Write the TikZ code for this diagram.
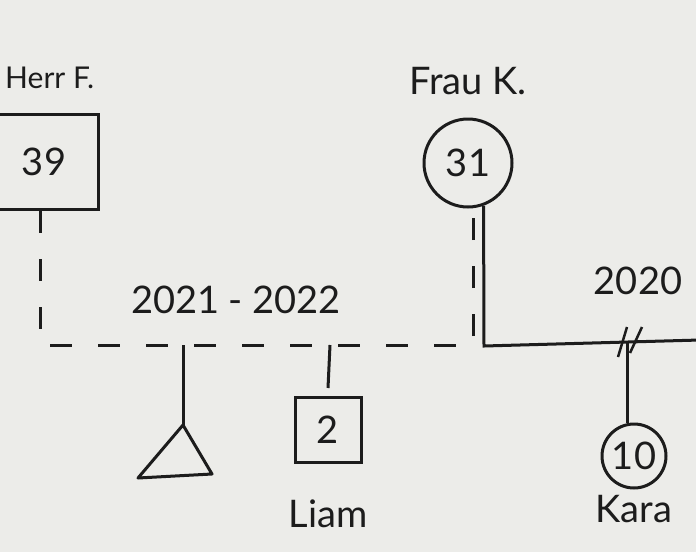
\documentclass[tikz,border=0pt]{standalone}
\usepackage{fontspec}
\setmainfont{Lato}
\usetikzlibrary{positioning,calc}
\definecolor{PAPERCOLOR}{RGB}{236,236,233}
\definecolor{INKCOLOR}{RGB}{28,28,28}
\tikzset{
  person-style/.style = {
    draw=INKCOLOR, line width=3pt, inner sep=0pt,
    text=INKCOLOR, font=\fontsize{38}{40}\selectfont
  },
  male-style/.style = {
    person-style, rectangle
  },
  female-style/.style = {
    person-style, circle, minimum size=#1
  },
  female-style/.default = 64pt,
  line-style/.style = {draw=INKCOLOR, line width=3pt},
  sep-style/.style = {line-style, dash pattern=on 22pt off 26pt},
  label-style/.style = {
    text=INKCOLOR, font=\fontsize{38}{40}\selectfont, inner sep=2pt
  }
}

\begin{document}
\begin{tikzpicture}[x=1pt,y=-1pt]
    \path[fill=PAPERCOLOR, use as bounding box] (0,0) rectangle (696,552);
    \clip (0,0) rectangle (696,552);

    %%% parents
    \node[male-style, minimum width=108pt, minimum height=95pt] (herrF) at (44,162) {39};
    \node[label-style, font=\fontsize{30}{32}\selectfont, anchor=base west] (herrFname) at (3,88) {Herr F.};
    \node[female-style=88pt] (frauK) at (468,163) {31};
    \node[label-style, above=20pt of frauK] (frauKname) {Frau K.};

    %%% children
    \node[male-style, minimum width=66pt, minimum height=65pt] (liam) at (328,430) {2};
    \node[label-style, below=34pt of liam] (liamname) {Liam};
    \node[female-style] (kara) at (634,456) {10};
    \node[label-style, below=4pt of kara] (karaname) {Kara};

    %%% dates
    \node[label-style] (sepdate) at (236,300) {2021 - 2022};
    \node[label-style] (mardate) at (638,281) {2020};

    %%% points on the lines
    \coordinate (sepL) at (40,345);
    \coordinate (sepR) at (473,345);
    \coordinate (marL) at (484,346);
    \coordinate (marR) at (700,340);
    \coordinate (lostTop) at (183,345);
    \coordinate (liamTop) at (330,345);
    \coordinate (karaTop) at (627,343);
    \coordinate (div) at (629,342);
    \coordinate (lost) at (183,425);

    % lost pregnancy
    \draw[line-style, line join=round] (lost) -- (138,478) -- (212,474) -- cycle;

    %%% arrows
    % Herr F. to Frau K. (not married)
    \draw[sep-style] (herrF.south -| sepL) -- (sepL) -- (sepR) -- (sepR |- frauK.south);
    % Frau K. married line
    \draw[line-style] (frauK.-70) -- (marL) -- (marR);
    % divorce
    \draw[line-style, line width=2.5pt] ($(div)+(-2,-15)$) -- ($(div)+(-11,15)$);
    \draw[line-style, line width=2.5pt] ($(div)+(13,-15)$) -- ($(div)+(1,11)$);
    % children
    \draw[line-style] (lostTop) -- (lost);
    \draw[line-style] (liamTop) -- ([yshift=8pt]liam.north);
    \draw[line-style] (karaTop) -- (karaTop |- kara.north);
\end{tikzpicture}
\end{document}
